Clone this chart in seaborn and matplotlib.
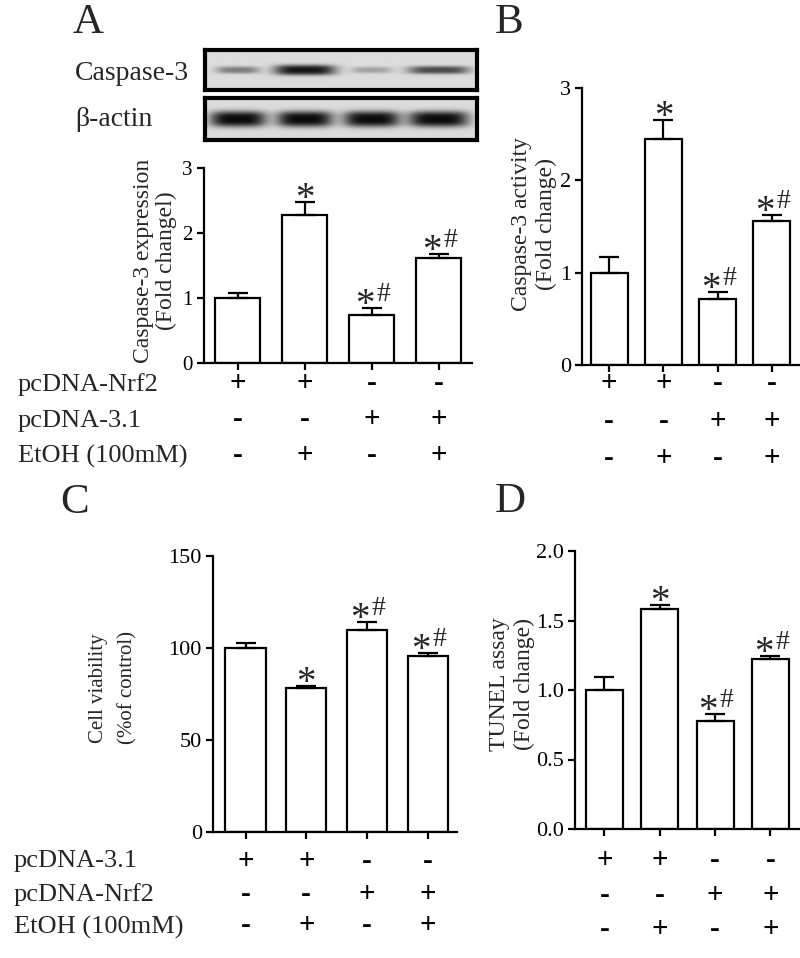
import numpy as np
import pandas as pd
import matplotlib
matplotlib.use('Agg')
import matplotlib.pyplot as plt
import seaborn as sns
from matplotlib import transforms
from matplotlib.ticker import FormatStrFormatter

sns.set_theme(style='ticks')
plt.rcParams['font.family'] = ['Liberation Serif', 'DejaVu Serif']

groups = ['g1', 'g2', 'g3', 'g4']

# A - caspase-3 expression (blot densitometry)
casp_expr = [1.00, 2.27, 0.74, 1.62]
casp_expr_err = [0.07, 0.21, 0.10, 0.06]
casp_expr_marks = ['', '*', '*#', '*#']
# band strength
casp_band = [0.45, 0.95, 0.28, 0.70]
actin_band = [1.0, 1.0, 1.0, 1.0]

# B - caspase-3 activity
casp_act = [1.00, 2.45, 0.71, 1.56]
casp_act_err = [0.17, 0.20, 0.08, 0.06]
casp_act_marks = ['', '*', '*#', '*#']

# C - cell viability
viability = [100.0, 78.0, 109.6, 95.6]
viability_err = [2.7, 1.4, 4.5, 1.5]
viability_marks = ['', '*', '*#', '*#']

# D - TUNEL
tunel = [1.00, 1.58, 0.78, 1.22]
tunel_err = [0.095, 0.03, 0.05, 0.027]
tunel_marks = ['', '*', '*#', '*#']

# treatment tables under the bars
top_rows = ['pcDNA-Nrf2', 'pcDNA-3.1', 'EtOH (100mM)']
top_signs = [['+', '+', '-', '-'], ['-', '-', '+', '+'], ['-', '+', '-', '+']]
bottom_rows = ['pcDNA-3.1', 'pcDNA-Nrf2', 'EtOH (100mM)']
bottom_signs = [['+', '+', '-', '-'], ['-', '-', '+', '+'], ['-', '+', '-', '+']]

W, H = 800, 958
fig = plt.figure(figsize=(8, 9.58), dpi=100)


def px(x0, y0, x1, y1):
    # pixel box (top-left origin) -> figure rect
    return [x0 / W, 1 - y1 / H, (x1 - x0) / W, (y1 - y0) / H]


def bar_panel(rect, vals, errs, marks, ylim, yticks, xlim, width, tick_fs=14):
    ax = fig.add_axes(rect)
    df = pd.DataFrame({'group': groups, 'value': vals})
    sns.barplot(data=df, x='group', y='value', color='white', edgecolor='black',
                linewidth=1.6, width=width, saturation=1, errorbar=None, ax=ax)
    x = np.arange(len(groups))
    ax.errorbar(x, vals, yerr=[np.zeros(len(vals)), errs], fmt='none', ecolor='black',
                elinewidth=1.6, capsize=7.5, capthick=1.6)
    for xi, v, e, m in zip(x, vals, errs, marks):
        top = v + e
        if m == '*':
            ax.annotate('*', (xi, top), xytext=(0, -5), textcoords='offset points',
                        ha='center', va='baseline', fontsize=28)
        elif m == '*#':
            ax.annotate('*', (xi, top), xytext=(-5, -5), textcoords='offset points',
                        ha='center', va='baseline', fontsize=28)
            ax.annotate('#', (xi, top), xytext=(8.5, 5), textcoords='offset points',
                        ha='center', va='baseline', fontsize=20)
    ax.set_xlim(xlim)
    ax.set_ylim(ylim)
    ax.set_yticks(yticks)
    ax.set_xticks(x)
    ax.set_xticklabels([])
    ax.set_xlabel('')
    ax.set_ylabel('')
    for s in ['top', 'right']:
        ax.spines[s].set_visible(False)
    for s in ['left', 'bottom']:
        ax.spines[s].set_linewidth(1.6)
        ax.spines[s].set_color('black')
    ax.tick_params(direction='out', length=5, width=1.6, colors='black',
                   labelsize=tick_fs, pad=3)
    ax.set_facecolor('none')
    return ax


def sign_table(ax, signs, baselines):
    trans = transforms.blended_transform_factory(ax.transData, fig.transFigure)
    for row, yb in zip(signs, baselines):
        for xi, s in enumerate(row):
            ax.text(xi, 1 - yb / H, s, transform=trans, ha='center', va='baseline',
                    fontsize=21, fontweight='bold', color='black')


def row_labels(x0, labels, baselines):
    for lab, yb in zip(labels, baselines):
        fig.text(x0 / W, 1 - yb / H, lab, ha='left', va='baseline', fontsize=19)


def blot(rect, strengths, half_w, sig_y):
    ax = fig.add_axes(rect)
    xs = np.linspace(-0.49, 3.57, 400)
    ys = np.linspace(0, 1, 80)
    X, Y = np.meshgrid(xs, ys)
    img = np.full(X.shape, 0.86)
    for i, s in enumerate(strengths):
        img -= 0.82 * s * np.exp(-np.abs((X - i) / half_w[i]) ** 4) \
            * np.exp(-np.abs((Y - 0.5) / sig_y[i]) ** 3)
    ax.imshow(np.clip(img, 0, 1), cmap='gray', vmin=0, vmax=1, origin='lower',
              extent=(-0.49, 3.57, 0, 1), aspect='auto', interpolation='bilinear')
    ax.set_xticks([])
    ax.set_yticks([])
    for s in ax.spines.values():
        s.set_visible(True)
        s.set_linewidth(3)
        s.set_color('black')
    return ax


# western blot strips
blot(px(205, 50, 477, 90), casp_band, [0.32, 0.46, 0.30, 0.46], [0.09, 0.13, 0.08, 0.10])
blot(px(205, 98, 477, 140), actin_band, [0.42, 0.42, 0.42, 0.45], [0.19, 0.19, 0.19, 0.19])
fig.text(75 / W, 1 - 80 / H, 'Caspase-3', fontsize=20, va='baseline')
fig.text(75 / W, 1 - 126 / H, 'β-actin', fontsize=20, va='baseline')

# panel A
axA = bar_panel(px(204, 168, 472, 363), casp_expr, casp_expr_err, casp_expr_marks,
                (0, 3), [0, 1, 2, 3], (-0.5, 3.5), 0.67, tick_fs=15)
fig.text(155 / W, 1 - 261 / H, 'Caspase-3 expression\n(Fold changel)', rotation=90,
         ha='center', va='center', fontsize=17, linespacing=1.1)
row_labels(18, top_rows, [391, 427, 463])
sign_table(axA, top_signs, [391, 427, 463])

# panel B
axB = bar_panel(px(582, 88, 799, 365), casp_act, casp_act_err, casp_act_marks,
                (0, 3), [0, 1, 2, 3], (-0.5, 3.5), 0.68, tick_fs=16)
fig.text(534 / W, 1 - 224 / H, 'Caspase-3 activity\n(Fold change)', rotation=90,
         ha='center', va='center', fontsize=17, linespacing=1.2)
sign_table(axB, top_signs, [391, 429, 466])

# panel C
axC = bar_panel(px(213, 556, 457, 832), viability, viability_err, viability_marks,
                (0, 150), [0, 50, 100, 150], (-0.535, 3.48), 0.66, tick_fs=16)
fig.text(113 / W, 1 - 688 / H, 'Cell viability\n(%of control)', rotation=90,
         ha='center', va='center', fontsize=15, linespacing=1.7)
row_labels(14, bottom_rows, [867, 901, 934])
sign_table(axC, bottom_signs, [869, 902, 933])

# panel D
axD = bar_panel(px(575, 551, 800, 829), tunel, tunel_err, tunel_marks,
                (0, 2.0), [0, 0.5, 1.0, 1.5, 2.0], (-0.533, 3.535), 0.67, tick_fs=16)
axD.yaxis.set_major_formatter(FormatStrFormatter('%.1f'))
fig.text(512 / W, 1 - 684 / H, 'TUNEL assay\n(Fold change)', rotation=90,
         ha='center', va='center', fontsize=17, linespacing=1.2)
sign_table(axD, bottom_signs, [868, 903, 937])

# panel letters
for lab, x0, yb in [('A', 73, 33), ('B', 495, 33), ('C', 60, 513), ('D', 495, 512)]:
    fig.text(x0 / W, 1 - yb / H, lab, fontsize=31, va='baseline')

fig.savefig('out.png', dpi=100)
